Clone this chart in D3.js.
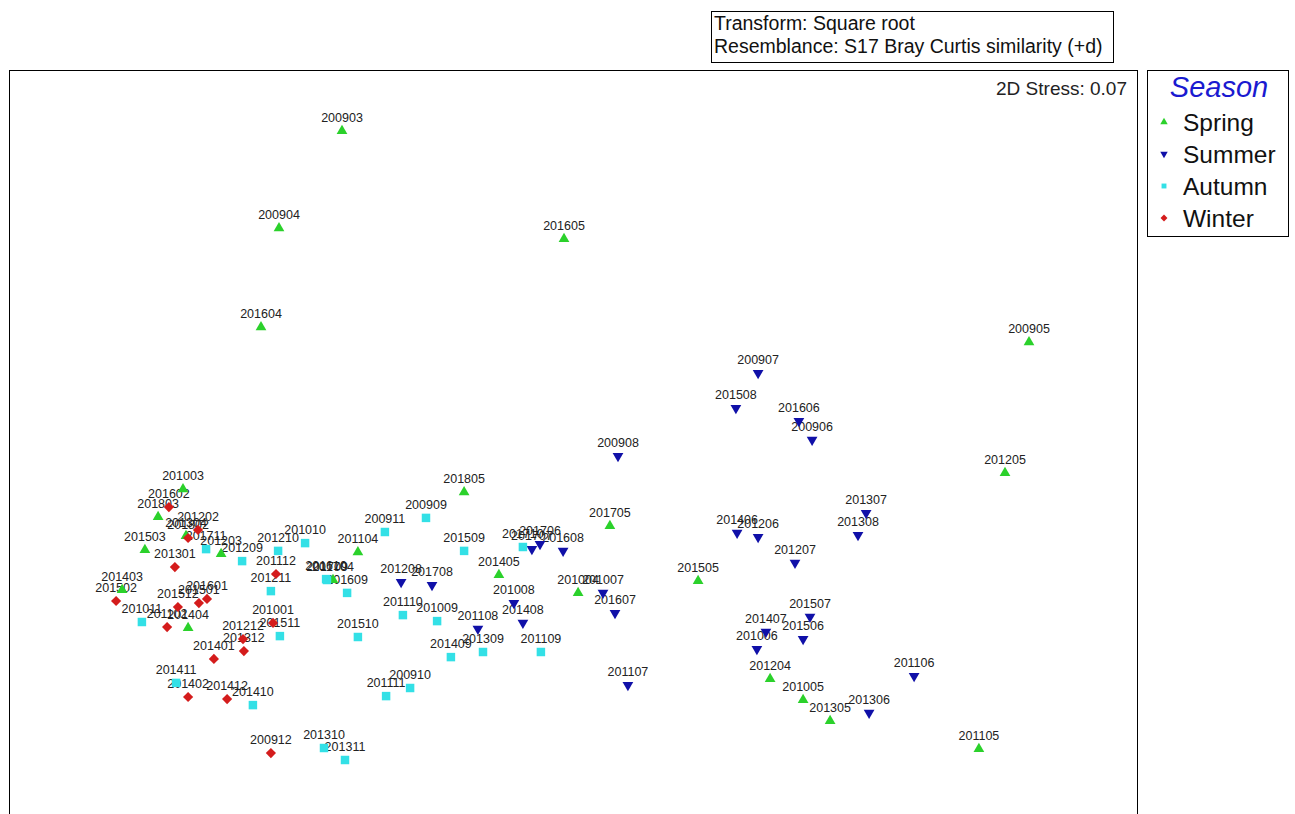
<!DOCTYPE html>
<html>
<head>
<meta charset="utf-8">
<script src="https://cdn.jsdelivr.net/npm/d3@7"></script>
<style>
  body { margin: 0; background: #fff; }
  svg { display: block; font-family: Arial, "Liberation Sans", sans-serif; }
</style>
</head>
<body>
<div id="chart"></div>
<script>
// nMDS ordination, 2D stress 0.07 - [sample, MDS1, MDS2]
const seasons = ["Spring", "Summer", "Autumn", "Winter"];

const spring = [
  ["200903", -0.770, 1.037], ["200904", -0.980, 0.713], ["201604", -1.040, 0.383],
  ["201605", -0.030, 0.677], ["200905", 1.520, 0.333], ["201205", 1.440, -0.103],
  ["201105", 1.353, -1.023], ["201805", -0.363, -0.167], ["201705", 0.123, -0.280],
  ["201104", -0.717, -0.367], ["201405", -0.247, -0.443], ["201004", 0.017, -0.503],
  ["201505", 0.417, -0.463], ["201204", 0.657, -0.790], ["201005", 0.767, -0.860],
  ["201305", 0.857, -0.930], ["201704", -0.800, -0.460], ["201003", -1.300, -0.157],
  ["201803", -1.383, -0.250], ["201304", -1.290, -0.313], ["201203", -1.173, -0.373],
  ["201503", -1.427, -0.360], ["201403", -1.503, -0.493], ["201404", -1.283, -0.620]
];

const summer = [
  ["200907", 0.617, 0.230], ["201508", 0.543, 0.113], ["201606", 0.753, 0.070],
  ["200906", 0.797, 0.007], ["200908", 0.150, -0.047], ["201307", 0.977, -0.237],
  ["201308", 0.950, -0.310], ["201406", 0.547, -0.303], ["201206", 0.617, -0.317],
  ["201207", 0.740, -0.403], ["201507", 0.790, -0.583], ["201407", 0.643, -0.633],
  ["201506", 0.767, -0.657], ["201006", 0.613, -0.690], ["201306", 0.987, -0.903],
  ["201106", 1.137, -0.780], ["201707", -0.137, -0.357], ["201706", -0.110, -0.340],
  ["201608", -0.033, -0.363], ["201008", -0.197, -0.537], ["201408", -0.167, -0.603],
  ["201007", 0.100, -0.503], ["201607", 0.140, -0.570], ["201107", 0.183, -0.810],
  ["201208", -0.573, -0.467], ["201708", -0.470, -0.477], ["201108", -0.317, -0.623]
];

const autumn = [
  ["200909", -0.490, -0.253], ["200911", -0.627, -0.300], ["201509", -0.363, -0.363],
  ["201710", -0.167, -0.350], ["201109", -0.107, -0.700], ["201010", -0.893, -0.337],
  ["201610", -0.823, -0.457], ["201709", -0.820, -0.460], ["201609", -0.753, -0.503],
  ["201110", -0.567, -0.577], ["201009", -0.453, -0.597], ["201510", -0.717, -0.650],
  ["201409", -0.407, -0.717], ["201309", -0.300, -0.700], ["200910", -0.543, -0.820],
  ["201111", -0.623, -0.847], ["201310", -0.830, -1.020], ["201311", -0.760, -1.060],
  ["201210", -0.983, -0.363], ["201209", -1.103, -0.397], ["201211", -1.007, -0.497],
  ["201711", -1.223, -0.357], ["201011", -1.437, -0.600], ["201511", -0.977, -0.647],
  ["201411", -1.323, -0.803], ["201410", -1.067, -0.877]
];

const winter = [
  ["201602", -1.347, -0.217], ["201202", -1.250, -0.293], ["201802", -1.283, -0.320],
  ["201301", -1.327, -0.417], ["201112", -0.990, -0.440], ["201502", -1.523, -0.530],
  ["201601", -1.220, -0.523], ["201512", -1.317, -0.550], ["201501", -1.247, -0.537],
  ["201102", -1.353, -0.617], ["201001", -1.000, -0.603], ["201212", -1.100, -0.657],
  ["201312", -1.097, -0.697], ["201401", -1.197, -0.723], ["201402", -1.283, -0.850],
  ["201412", -1.153, -0.857], ["200912", -1.007, -1.037]
];

const notes = ["Transform: Square root", "Resemblance: S17 Bray Curtis similarity (+d)"];
const stress = "2D Stress: 0.07";

const colors = {Spring: "#2bd12b", Summer: "#1010a8", Autumn: "#33e0e6", Winter: "#d41c1c"};
const symbols = {Spring: "up", Summer: "down", Autumn: "square", Winter: "diamond"};

const points = [];
[spring, summer, autumn, winter].forEach((arr, i) => {
  arr.forEach(d => points.push({id: d[0], x: d[1], y: d[2], season: seasons[i]}));
});

const W = 1295, H = 814;
const plot = {left: 9, right: 1137, top: 70, bottom: 814};

const x = d3.scaleLinear().domain([-1.88, 1.88]).range([plot.left, plot.right]);
const y = d3.scaleLinear().domain([-1.24, 1.24]).range([plot.bottom, plot.top]);

function shape(kind, s) {
  if (kind === "up" || kind === "down") return d3.symbol(d3.symbolTriangle, s)();
  return d3.symbol(d3.symbolSquare, s)();
}
function rot(kind) {
  if (kind === "down") return " rotate(180)";
  if (kind === "diamond") return " rotate(45)";
  return "";
}
const markSize = {up: 50, down: 50, square: 72, diamond: 52};

const svg = d3.select("#chart").append("svg")
  .attr("width", W).attr("height", H);

// transform / resemblance box
svg.append("rect")
  .attr("x", 711.5).attr("y", 11.5).attr("width", 402).attr("height", 51)
  .attr("fill", "none").attr("stroke", "#000");
svg.selectAll(".note").data(notes).join("text")
  .attr("class", "note")
  .attr("x", 714).attr("y", (d, i) => 30 + i * 23)
  .attr("font-size", 19.5).attr("fill", "#111")
  .text(d => d);

// plot frame
svg.append("rect")
  .attr("x", plot.left + 0.5).attr("y", plot.top + 0.5)
  .attr("width", plot.right - plot.left).attr("height", 800)
  .attr("fill", "none").attr("stroke", "#000");

svg.append("text")
  .attr("x", plot.right - 10).attr("y", 95)
  .attr("text-anchor", "end").attr("font-size", 19).attr("fill", "#222")
  .text(stress);

const g = svg.append("g");

g.selectAll(".lab").data(points).join("text")
  .attr("class", "lab")
  .attr("x", d => x(d.x)).attr("y", d => y(d.y) - 9)
  .attr("text-anchor", "middle").attr("font-size", 12.5).attr("fill", "#222")
  .text(d => d.id);

g.selectAll(".pt").data(points).join("path")
  .attr("class", "pt")
  .attr("transform", d => `translate(${x(d.x)},${y(d.y)})` + rot(symbols[d.season]))
  .attr("d", d => shape(symbols[d.season], markSize[symbols[d.season]]))
  .attr("fill", d => colors[d.season]);

// legend
const lg = svg.append("g");
lg.append("rect")
  .attr("x", 1147.5).attr("y", 70.5).attr("width", 141).attr("height", 166)
  .attr("fill", "#fff").attr("stroke", "#000");
lg.append("text")
  .attr("x", 1219).attr("y", 97).attr("text-anchor", "middle")
  .attr("font-size", 29).attr("font-style", "italic").attr("fill", "#1a1ad0")
  .text("Season");
const item = lg.selectAll(".item").data(seasons).join("g")
  .attr("class", "item")
  .attr("transform", (d, i) => `translate(1164,${122 + i * 32})`);
item.append("path")
  .attr("transform", d => rot(symbols[d]))
  .attr("d", d => shape(symbols[d], 24))
  .attr("fill", d => colors[d]);
item.append("text")
  .attr("x", 19).attr("y", 9)
  .attr("font-size", 24.5).attr("fill", "#111")
  .text(d => d);
</script>
</body>
</html>
